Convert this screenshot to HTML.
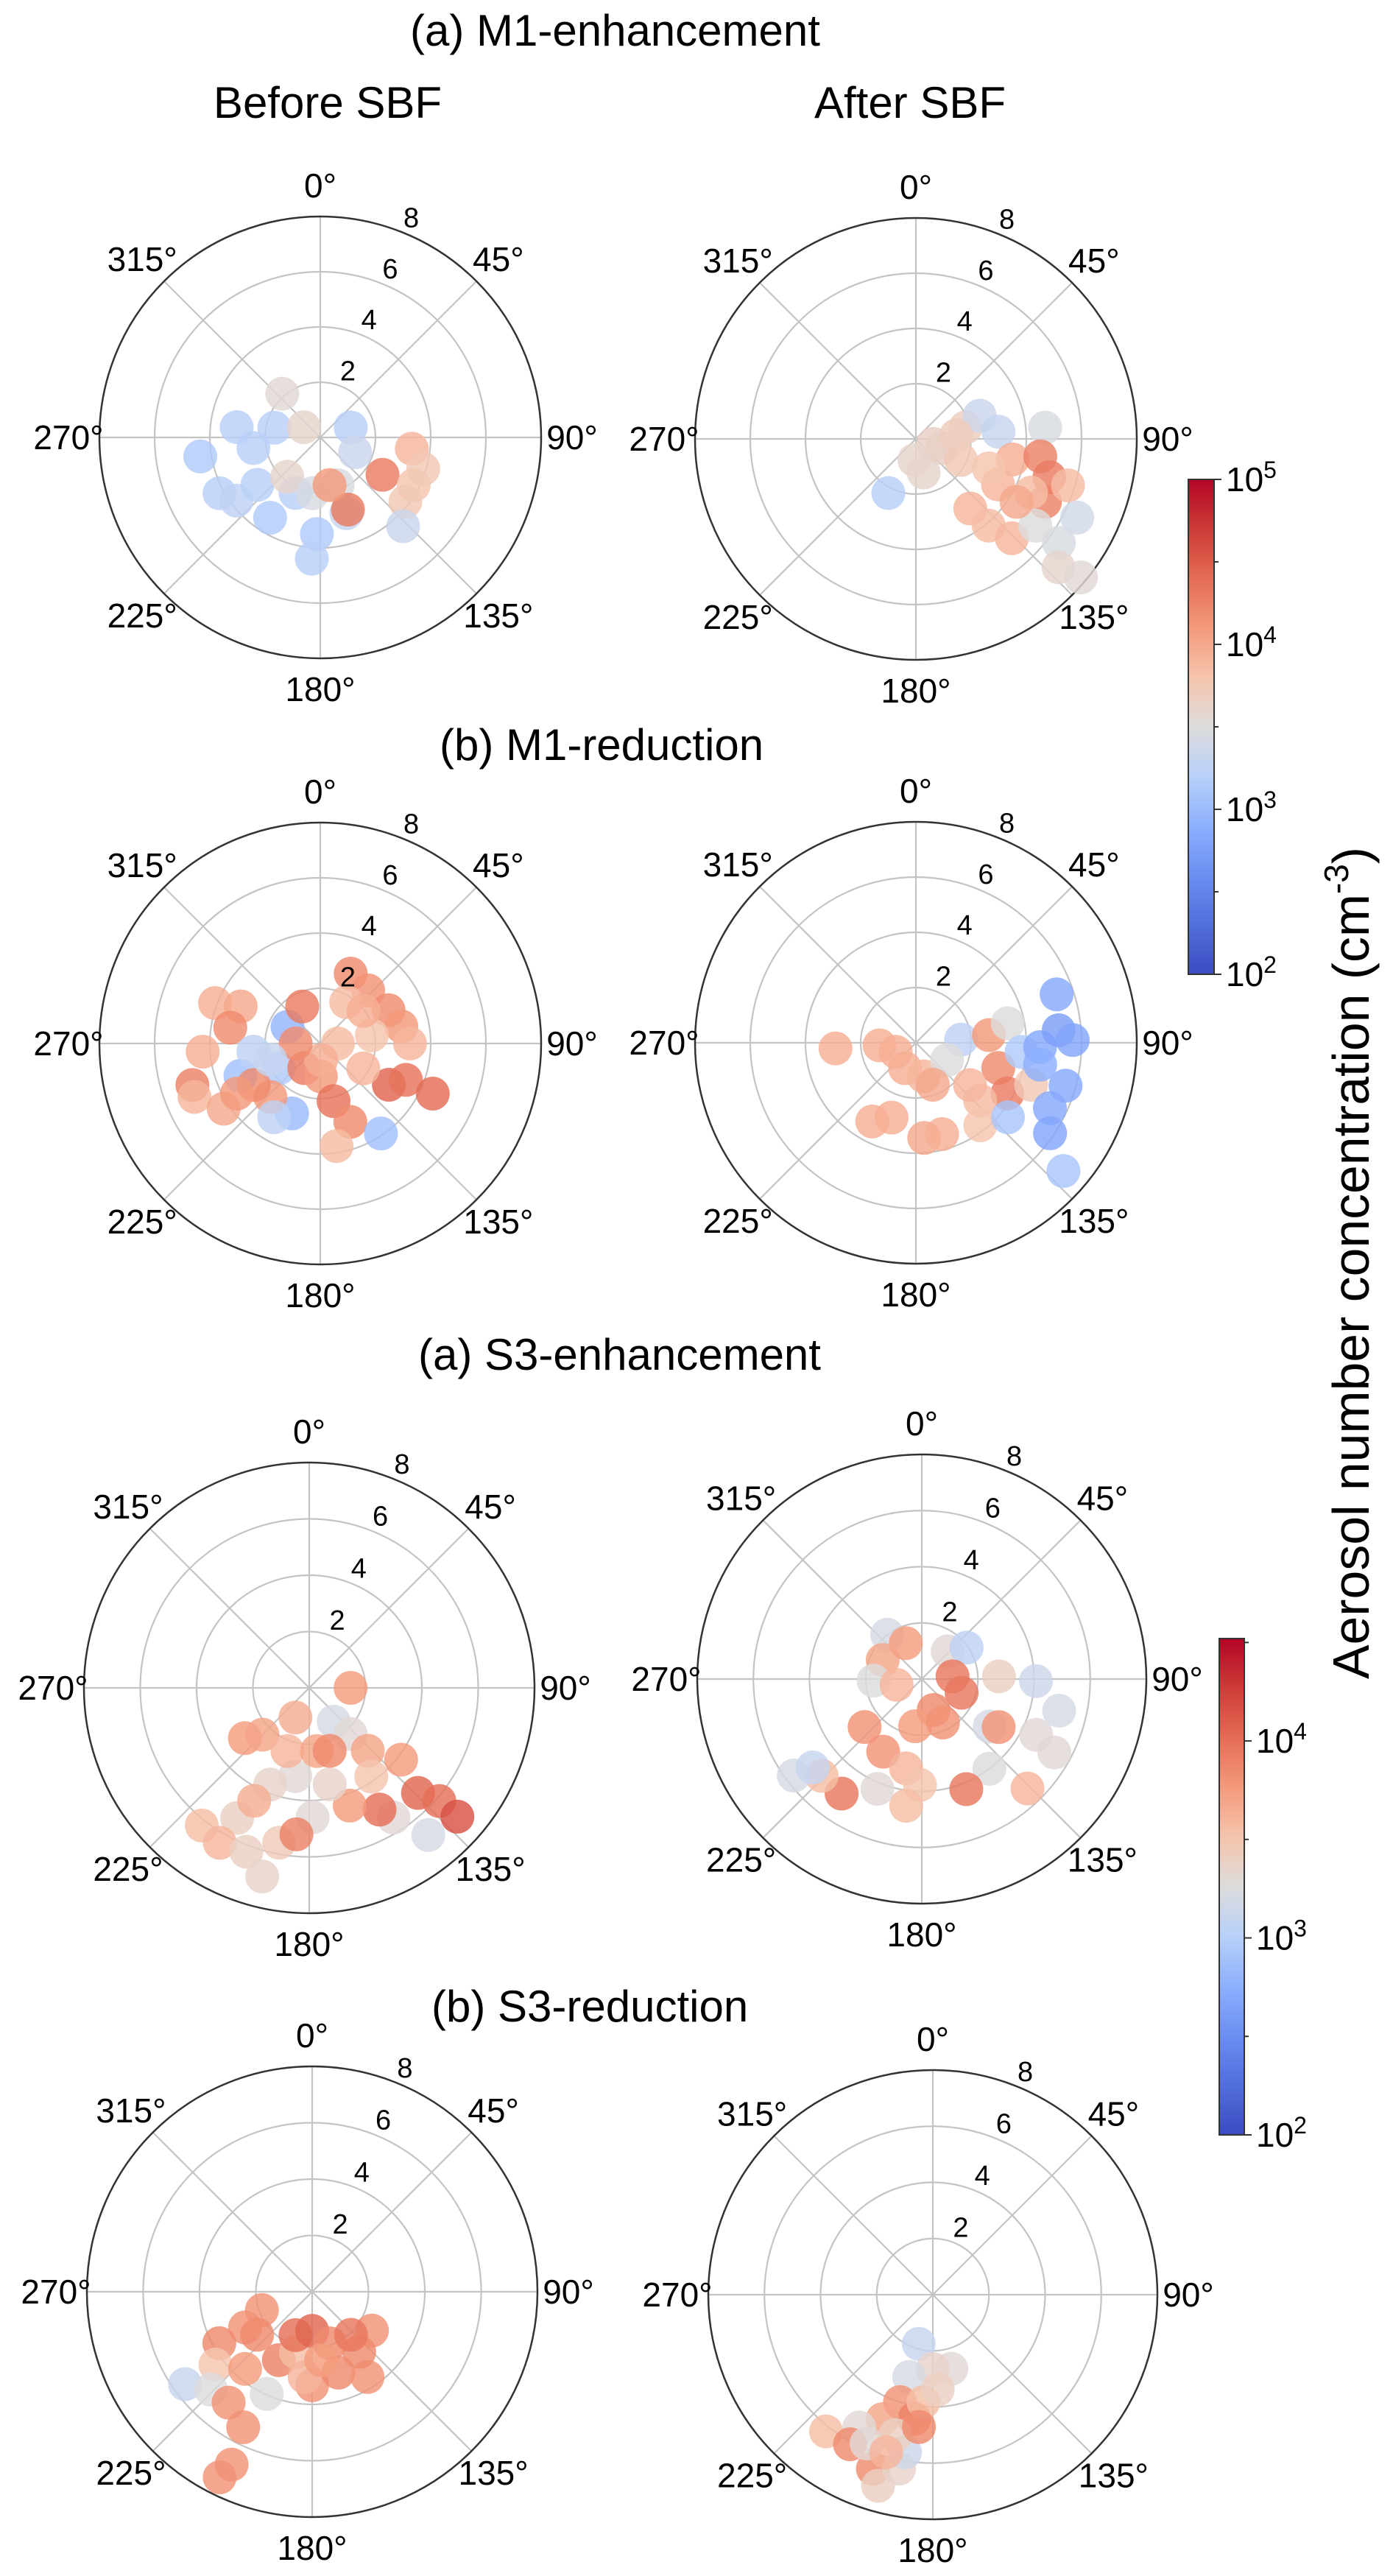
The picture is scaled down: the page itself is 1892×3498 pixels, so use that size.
<!DOCTYPE html>
<html><head><meta charset="utf-8"><style>
html,body{margin:0;padding:0;background:#fff;}
svg{display:block;font-family:"Liberation Sans",Arial,sans-serif;}
</style></head><body>
<svg id="fig" xmlns="http://www.w3.org/2000/svg" width="1892" height="3498" viewBox="0 0 1892 3498">
<rect width="1892" height="3498" fill="#fff"/>
<text x="557" y="62" font-size="60">(a) M1-enhancement</text>
<text x="445" y="160" font-size="60" text-anchor="middle">Before SBF</text>
<text x="1236" y="160" font-size="60" text-anchor="middle">After SBF</text>
<text x="597" y="1032" font-size="60">(b) M1-reduction</text>
<text x="568" y="1860" font-size="60">(a) S3-enhancement</text>
<text x="586" y="2745" font-size="60">(b) S3-reduction</text>
<text transform="translate(1859,1715) rotate(-90)" font-size="70" text-anchor="middle" textLength="1130" lengthAdjust="spacingAndGlyphs">Aerosol number concentration (cm<tspan font-size="46" dy="-28">-3</tspan><tspan dy="28">)</tspan></text>
<g id="plots"></g>
</svg>
<script>
// ---- data: theta (deg, clockwise from N), radius, log10 concentration ----
const p1Theta=[261,277,261,282,241,233,233,212,204,182,184,72,113,161,302,220,188,160,319,121,159,97,117,127,137,107,169];
const p1R=[4.4,3.05,2.45,1.7,4.17,3.8,2.85,3.43,2.2,3.5,4.4,1.16,1.37,2.9,0.7,1.86,2.04,1.84,2.1,2.63,2.8,3.34,3.8,3.86,4.4,3.9,1.76];
const p1Val=[3.15,3.2,3.2,3.2,3.2,3.25,3.2,3.15,3.2,3.15,3.2,3.2,3.35,3.3,3.6,3.6,3.45,3.45,3.55,4.3,4.3,3.9,3.8,3.75,3.35,3.75,4.1];

const p2Theta=[207,167,109,77,70,85,85,102,98,106,116,107,116,126,132,130,142,140,136,119,112,115,106,85,115,126,122,184];
const p2R=[2.2,1.25,1.0,1.85,2.46,3.0,4.7,3.58,4.55,5.03,5.2,5.76,6.5,6.4,6.95,7.8,3.2,4.1,5.0,3.4,2.85,1.8,0.65,1.47,4.6,5.35,4.3,0.77];
const p2Val=[3.2,3.6,3.65,3.7,3.35,3.3,3.45,3.95,4.25,4.3,4.25,3.85,3.4,3.45,3.6,3.55,3.9,3.85,3.9,3.9,3.8,3.75,3.65,3.7,3.85,3.5,4.0,3.6];

const p3Theta=[291,295,280,266,252,247,236,248,263,239,297,334,202,223,238,213,179,167,159,171,146,121,113,114,23.5,42,32,64,78,90,81,90,120,177,270,252,53,212,239];
const p3R=[4.08,3.18,3.31,4.27,4.87,4.95,4.22,3.12,2.44,1.75,1.33,1.49,2.73,2.65,2.84,1.06,1.19,2.14,3.04,3.76,3.93,2.9,3.37,4.46,2.76,2.59,1.77,2.75,3.0,3.25,1.89,0.64,1.8,0.6,0.89,1.9,1.96,3.15,3.52];
const p3Val=[3.95,4.0,4.2,3.95,4.25,3.9,4.0,3.05,3.25,3.15,2.95,4.3,3.0,4.1,4.2,4.3,4.1,4.35,4.2,3.85,3.05,4.45,4.35,4.4,4.2,4.15,3.85,4.2,4.1,3.9,3.8,3.85,3.9,3.95,4.2,3.3,3.95,3.25,4.1];

const p4Theta=[266,266,203,167,209,198,175,164,86,119,84,107,119,132,142,128,110,78,95,92,71,85,89,106,116,124,131,129,100,158,246];
const p4R=[2.92,1.32,1.0,1.25,3.26,2.85,3.46,3.44,1.64,1.29,2.66,3.12,3.79,3.13,3.79,2.49,4.44,3.4,3.84,4.5,5.39,5.19,5.68,5.64,5.4,5.86,7.08,4.29,4.57,1.64,0.8];
const p4Val=[3.95,3.95,3.95,3.9,3.95,3.95,4.0,3.95,3.25,3.5,4.1,4.2,4.3,3.85,3.8,3.9,3.75,3.5,3.15,2.85,2.85,2.75,2.8,2.85,2.85,2.8,3.1,3.1,2.9,4.0,3.95];

const p5Theta=[90,205,232,225,144,138,137,128,134,131,131,147,141,150,161,168,178.5,189,202,209,218,210,201,194,191,185,199,173,145,162,206];
const p5R=[1.47,1.16,2.9,2.35,1.48,2.2,3.05,4.14,5.37,6.12,6.97,5.49,6.72,4.99,4.42,3.5,4.6,3.17,3.7,5.28,6.2,6.35,6.23,6.9,5.6,5.22,2.37,2.26,3.84,2.35,4.46];
const p5Val=[3.75,3.65,3.75,3.7,3.2,3.3,3.7,3.75,4.05,4.0,4.15,3.3,3.2,4.0,3.75,3.35,3.3,3.3,3.35,3.4,3.55,3.6,3.4,3.35,3.45,3.9,3.6,3.7,3.5,3.85,3.65];

const p6Theta=[322,336,296,268,257,43,55,85,109,159,88,91,103,125,122,116,119,143,136,158,230,208,188,190,181,202,187,215,226,233,231,154];
const p6R=[2.0,1.4,1.55,1.72,0.92,1.35,1.95,1.1,1.5,1.18,2.75,4.07,5.02,2.95,3.23,4.53,5.4,4.0,5.42,4.23,2.66,2.93,1.7,3.23,3.77,4.22,4.55,4.98,4.96,5.71,5.0,1.72];
const p6Val=[3.2,3.75,3.7,3.25,3.6,3.3,3.05,3.95,3.95,3.85,3.4,3.15,3.2,3.2,3.8,3.3,3.3,3.25,3.6,3.95,3.8,3.8,3.75,3.6,3.5,3.3,3.55,3.95,3.55,3.2,3.1,3.8];

const p7Theta=[250,242,241,233,234,226,217,207,205,206.5,204,221,206,195,201,180,161,180,162,123,147,142,138,185,172.5,232];
const p7R=[1.9,2.7,3.77,4.3,5.58,5.0,4.93,5.4,6.77,7.36,3.97,3.63,2.7,2.22,1.65,1.39,1.94,3.32,3.02,2.53,3.61,2.71,2.06,3.04,2.45,2.48];
const p7Val=[3.8,3.8,3.85,3.5,3.1,3.25,3.8,3.8,3.8,3.8,3.25,3.75,3.9,3.55,4.0,4.05,3.85,3.8,3.85,3.8,3.8,3.85,3.95,3.6,3.75,3.85];

const p8Theta=[196,166,180,196,197,188.5,185,202,209,218,209,199,196,191,190,195,204,196.5,186,177];
const p8R=[1.82,2.72,2.64,3.05,4.0,4.47,3.84,4.78,5.41,6.18,6.09,6.56,7.08,6.31,5.7,5.18,5.8,5.85,4.74,3.38];
const p8Val=[3.1,3.3,3.35,3.2,3.8,3.9,3.55,3.7,3.3,3.55,3.85,3.85,3.4,3.35,3.15,3.4,3.3,3.6,3.85,3.4];

const angleTicks=[0,45,90,135,180,225,270,315];
const radialTicks=[2,4,6,8];
const cb1Ticks=[5,4,3,2];
const cb2Ticks=[4,3,2];

// ---- rendering ----
const NS="http://www.w3.org/2000/svg";
const root=document.getElementById('plots');
function mk(tag,attrs,parent){const e=document.createElementNS(NS,tag);for(const k in attrs)e.setAttribute(k,attrs[k]);(parent||root).appendChild(e);return e;}
const cmStops=[[0,59,76,192],[0.1,82,110,220],[0.2,107,142,242],[0.3,141,176,254],[0.4,184,208,249],[0.5,221,220,220],[0.6,245,196,173],[0.7,244,154,123],[0.8,228,108,85],[0.9,205,60,55],[1,180,4,38]];
function coolwarm(t){t=Math.max(0,Math.min(1,t));for(let i=1;i<cmStops.length;i++){if(t<=cmStops[i][0]){const a=cmStops[i-1],b=cmStops[i],f=(t-a[0])/(b[0]-a[0]);return 'rgb('+[1,2,3].map(j=>Math.round(a[j]+(b[j]-a[j])*f)).join(',')+')';}}return 'rgb(180,4,38)';}

const panels=[
 {name:'m1-enh-before',cx:435,cy:594,R:300,vmin:2,vmax:5,th:p1Theta,r:p1R,v:p1Val},
 {name:'m1-enh-after',cx:1244,cy:596,R:300,vmin:2,vmax:5,th:p2Theta,r:p2R,v:p2Val},
 {name:'m1-red-before',cx:435,cy:1417,R:300,vmin:2,vmax:5,th:p3Theta,r:p3R,v:p3Val},
 {name:'m1-red-after',cx:1244,cy:1416,R:300,vmin:2,vmax:5,th:p4Theta,r:p4R,v:p4Val},
 {name:'s3-enh-before',cx:420,cy:2292,R:306,vmin:2,vmax:4.52,th:p5Theta,r:p5R,v:p5Val},
 {name:'s3-enh-after',cx:1252,cy:2280,R:305,vmin:2,vmax:4.52,th:p6Theta,r:p6R,v:p6Val},
 {name:'s3-red-before',cx:424,cy:3112,R:306,vmin:2,vmax:4.52,th:p7Theta,r:p7R,v:p7Val},
 {name:'s3-red-after',cx:1267,cy:3116,R:305,vmin:2,vmax:4.52,th:p8Theta,r:p8R,v:p8Val}
];
const RMAX=8;
panels.forEach(p=>{
  const g=mk('g',{});
  
  
  const rs=v=>v/RMAX*p.R;
  const px=(t,r)=>p.cx+rs(r)*Math.sin(t*Math.PI/180);
  const py=(t,r)=>p.cy-rs(r)*Math.cos(t*Math.PI/180);
  radialTicks.forEach(t=>{
    if(t<RMAX){const c=mk('circle',{cx:p.cx,cy:p.cy,r:rs(t),fill:'none',stroke:'#c4c4c4','stroke-width':2.2},g);
    
    }
  });
  angleTicks.forEach(a=>{
    const l=mk('line',{x1:p.cx,y1:p.cy,x2:px(a,RMAX),y2:py(a,RMAX),stroke:'#c4c4c4','stroke-width':2.2},g);
    
    
  });
  const oc=mk('circle',{cx:p.cx,cy:p.cy,r:p.R,fill:'none',stroke:'#333','stroke-width':2.5},g);
  
  
  for(let i=0;i<p.th.length;i++){
    const t=(p.v[i]-p.vmin)/(p.vmax-p.vmin);
    const d=mk('circle',{cx:px(p.th[i],p.r[i]),cy:py(p.th[i],p.r[i]),r:23,fill:coolwarm(t),'fill-opacity':0.82},g);
    
    
  }
  angleTicks.forEach(a=>{
    const rr=p.R+42;
    const tx=mk('text',{x:p.cx+rr*Math.sin(a*Math.PI/180),y:p.cy-rr*Math.cos(a*Math.PI/180)+16,'font-size':46,'text-anchor':'middle'},g);
    tx.textContent=a+'°';
    
    
  });
  radialTicks.forEach(t=>{
    const rr=rs(t)+23;
    const tx=mk('text',{x:p.cx+rr*Math.sin(22.5*Math.PI/180),y:p.cy-rr*Math.cos(22.5*Math.PI/180)+13,'font-size':38,'text-anchor':'middle'},g);
    tx.textContent=t;
    
    
  });
});

// ---- colorbars ----
const defs=mk('defs',{});
const grad=mk('linearGradient',{id:'cw',x1:0,y1:1,x2:0,y2:0},defs);
cmStops.forEach(s=>mk('stop',{offset:s[0],'stop-color':coolwarm(s[0])},grad));
function colorbar(name,x,w,yTop,yBot,vmin,vmax,ticks){
  const g=mk('g',{});
  
  
  mk('rect',{x:x,y:yTop,width:w,height:yBot-yTop,fill:'url(#cw)',stroke:'#333','stroke-width':2},g);
  const ys=v=>yBot-(v-vmin)/(vmax-vmin)*(yBot-yTop);
  for(let v=Math.ceil(vmin*2)/2;v<=vmax+1e-9;v+=0.5){
    mk('line',{x1:x+w,x2:x+w+(Number.isInteger(v)?10:6),y1:ys(v),y2:ys(v),stroke:'#333','stroke-width':2},g);
  }
  ticks.forEach(v=>{
    const t=mk('text',{x:x+w+16,y:ys(v)+16,'font-size':46},g);
    
    
    t.textContent='10';
    const s=mk('tspan',{'font-size':32,dy:-18},t);s.textContent=String(v);
  });
}
colorbar('colorbar-m1',1614,35,651,1323,2,5,cb1Ticks);
colorbar('colorbar-s3',1656,34,2225,2899,2,4.52,cb2Ticks);
</script>
</body></html>
